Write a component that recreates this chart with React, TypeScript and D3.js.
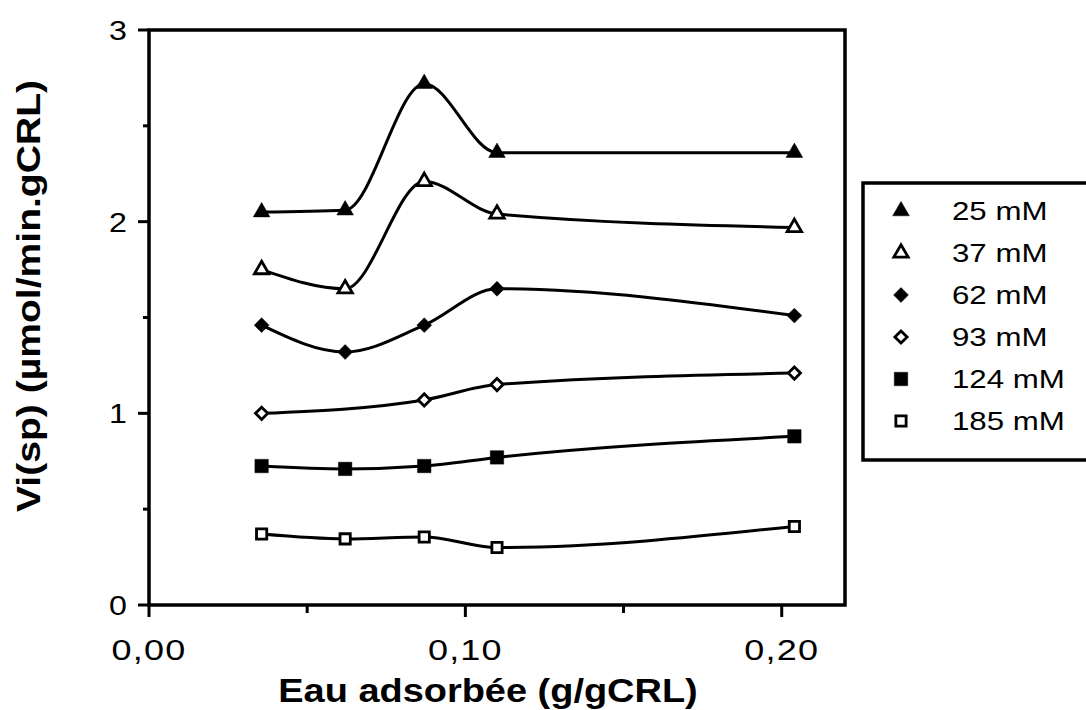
import * as d3 from 'd3'

const concentrations = ['25 mM', '37 mM', '62 mM', '93 mM', '124 mM', '185 mM']
const waterX = [0.0356, 0.062, 0.087, 0.11, 0.204]

const v25 = [2.05, 2.06, 2.72, 2.36, 2.36]
const v37 = [1.75, 1.65, 2.21, 2.04, 1.97]
const v62 = [1.46, 1.32, 1.46, 1.65, 1.51]
const v93 = [1.0, null, 1.07, 1.15, 1.21]
const v124 = [0.725, 0.71, 0.725, 0.77, 0.88]
const v185 = [0.37, 0.345, 0.355, 0.3, 0.41]

const seriesValues = [v25, v37, v62, v93, v124, v185]

const xTicks = [0, 0.1, 0.2]
const xMinorTicks = [0.05, 0.15]
const yTicks = [0, 1, 2, 3]
const yMinorTicks = [0.5, 1.5, 2.5]

const W = 1086
const H = 710
const FONT = '"Liberation Sans", Arial, Helvetica, sans-serif'

const x = d3.scaleLinear().domain([0, 0.22]).range([149, 845])
const y = d3.scaleLinear().domain([0, 3]).range([605, 30])

// marker look per series: symbol + filled or open
const markers = [
  { type: d3.symbolTriangle, size: 120, filled: true },
  { type: d3.symbolTriangle, size: 90, filled: false },
  { type: d3.symbolDiamond2 ?? d3.symbolDiamond, size: 140, filled: true },
  { type: d3.symbolDiamond2 ?? d3.symbolDiamond, size: 95, filled: false },
  { type: d3.symbolSquare, size: 180, filled: true },
  { type: d3.symbolSquare, size: 105, filled: false },
]

const fmt = (v: number) => v.toFixed(2).replace('.', ',')

const Marker = ({ i, cx, cy }: { i: number; cx: number; cy: number }) => {
  const m = markers[i]
  const d = d3.symbol().type(m.type).size(m.size)()!
  return (
    <path
      d={d}
      transform={`translate(${cx},${cy})`}
      fill={m.filled ? '#000' : '#fff'}
      stroke="#000"
      strokeWidth={m.filled ? 0.5 : 2.8}
    />
  )
}

const App = () => {
  const line = d3
    .line<[number, number]>()
    .x((d) => x(d[0]))
    .y((d) => y(d[1]))
    .curve(d3.curveMonotoneX)

  const legendRowY = (i: number) => 211 + i * 42

  return (
    <svg
      width={W}
      height={H}
      style={{ position: 'absolute', left: 0, top: 0, background: '#fff' }}
      fontFamily={FONT}
    >
      <rect width={W} height={H} fill="#fff" />

      {/* frame */}
      <rect x={x(0)} y={y(3)} width={x(0.22) - x(0)} height={y(0) - y(3)} fill="none" stroke="#000" strokeWidth={3.5} />

      {/* x ticks */}
      {xTicks.map((t) => (
        <g key={'xt' + t}>
          <line x1={x(t)} x2={x(t)} y1={y(0)} y2={y(0) + 12} stroke="#000" strokeWidth={3} />
          <text transform={`translate(${x(t)},${y(0) + 55}) scale(1.2,1)`} textAnchor="middle" fontSize={30} letterSpacing={1}>
            {fmt(t)}
          </text>
        </g>
      ))}
      {xMinorTicks.map((t) => (
        <line key={'xm' + t} x1={x(t)} x2={x(t)} y1={y(0)} y2={y(0) + 8} stroke="#000" strokeWidth={3} />
      ))}

      {/* y ticks */}
      {yTicks.map((t) => (
        <g key={'yt' + t}>
          <line x1={x(0) - 11} x2={x(0)} y1={y(t)} y2={y(t)} stroke="#000" strokeWidth={3} />
          <text transform={`translate(${x(0) - 22},${y(t) + 10}) scale(1.15,1)`} textAnchor="end" fontSize={28}>
            {t}
          </text>
        </g>
      ))}
      {yMinorTicks.map((t) => (
        <line key={'ym' + t} x1={x(0) - 6} x2={x(0)} y1={y(t)} y2={y(t)} stroke="#000" strokeWidth={3} />
      ))}

      {/* axis titles */}
      <text transform="translate(488,702) scale(1.15,1)" textAnchor="middle" fontSize={33} fontWeight="bold">
        Eau adsorbée (g/gCRL)
      </text>
      <text transform="translate(40,296) rotate(-90) scale(1.15,1)" textAnchor="middle" fontSize={34} fontWeight="bold">
        Vi(sp) (µmol/min.gCRL)
      </text>

      {/* curves */}
      {seriesValues.map((vals, i) => {
        const pts = waterX
          .map((wx, j) => [wx, vals[j]] as [number, number | null])
          .filter((p) => p[1] !== null) as [number, number][]
        return <path key={'l' + i} d={line(pts)!} fill="none" stroke="#000" strokeWidth={3} />
      })}

      {/* markers */}
      {seriesValues.map((vals, i) =>
        waterX.map((wx, j) =>
          vals[j] === null ? null : <Marker key={`m${i}-${j}`} i={i} cx={x(wx)} cy={y(vals[j] as number)} />
        )
      )}

      {/* legend */}
      <rect x={863} y={183} width={240} height={277} fill="#fff" stroke="#000" strokeWidth={3.5} />
      {concentrations.map((c, i) => (
        <g key={'lg' + i}>
          <Marker i={i} cx={901} cy={legendRowY(i)} />
          <text transform={`translate(952,${legendRowY(i) + 9}) scale(1.25,1)`} fontSize={25}>
            {c}
          </text>
        </g>
      ))}
    </svg>
  )
}

export default App
